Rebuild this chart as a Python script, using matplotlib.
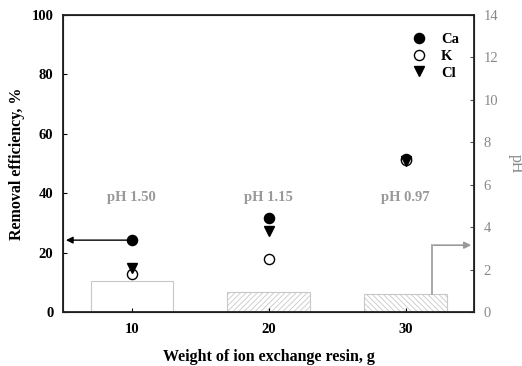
import matplotlib
matplotlib.use("Agg")
import matplotlib.pyplot as plt

plt.rcParams['font.family'] = ['Liberation Serif', 'DejaVu Serif']
plt.rcParams['hatch.color'] = '#c8c8c8'
plt.rcParams['hatch.linewidth'] = 0.6

weights = [10, 20, 30]
ca = [24.2, 31.8, 51.6]
k = [12.7, 18.0, 51.3]
cl = [14.8, 27.4, 51.0]
ph = [1.45, 0.95, 0.87]
ph_labels = ['pH 1.50', 'pH 1.15', 'pH 0.97']
hatches = ['', '//////', '\\\\\\\\\\\\']

fig = plt.figure(figsize=(5.22, 3.66), dpi=100)
ax = fig.add_axes([0.121, 0.1475, 0.787, 0.8115])
ax2 = ax.twinx()

# pH bars on the right axis
for x, p, h in zip(weights, ph, hatches):
    ax2.bar(x, p, width=6, color='white', edgecolor='#c8c8c8', hatch=h, linewidth=0.8)
ax2.set_ylim(0, 14)
ax2.set_yticks(range(0, 15, 2))
ax2.tick_params(axis='y', direction='in', colors='#555555', labelcolor='#888888',
                labelsize=10.5, length=3, pad=7)
ax2.set_ylabel('pH', color='#888888', fontsize=11.5, rotation=270, labelpad=18)
ax2.plot([31.9, 31.9], [0.87, 3.15], color='#999999', lw=1.2)
ax2.annotate('', xy=(35, 3.15), xytext=(31.85, 3.15),
             arrowprops=dict(arrowstyle='-|>', color='#999999', lw=1.2, mutation_scale=10))

ax.set_zorder(ax2.get_zorder() + 1)
ax.patch.set_visible(False)

ax.plot(weights, ca, 'o', color='black', ms=7.3, label='Ca')
ax.plot(weights, k, 'o', mfc='white', mec='black', mew=1, ms=7.3, label='K')
ax.plot(weights, cl, 'v', color='black', ms=7.3, label='Cl')

for x, t in zip(weights, ph_labels):
    ax.text(x, 38.7, t, ha='center', va='center', color='#999999', fontsize=10.5, fontweight='bold')

ax.annotate('', xy=(5, ca[0]), xytext=(10, ca[0]),
            arrowprops=dict(arrowstyle='-|>', color='black', lw=1, mutation_scale=10))

ax.set_xlim(5, 35)
ax.set_ylim(0, 100)
ax.set_xticks(weights)
ax.set_yticks(range(0, 101, 20))
ax.tick_params(direction='in', labelsize=10.5, length=3)
ax.tick_params(axis='x', pad=8)
ax.tick_params(axis='y', pad=7)
for lab in ax.get_xticklabels() + ax.get_yticklabels():
    lab.set_fontweight('bold')
ax.set_xlabel('Weight of ion exchange resin, g', fontsize=11.5, fontweight='bold', labelpad=9)
ax.set_ylabel('Removal efficiency, %', fontsize=11.5, fontweight='bold', labelpad=5)
for s in ax.spines.values():
    s.set_linewidth(1.3)
    s.set_color('#222222')

leg = ax.legend(loc='upper right', bbox_to_anchor=(0.995, 0.985), frameon=False,
                prop={'weight': 'bold', 'size': 10.5}, handletextpad=0.9, labelspacing=0.25,
                handlelength=1.2)

fig.savefig('out.png', dpi=100)
